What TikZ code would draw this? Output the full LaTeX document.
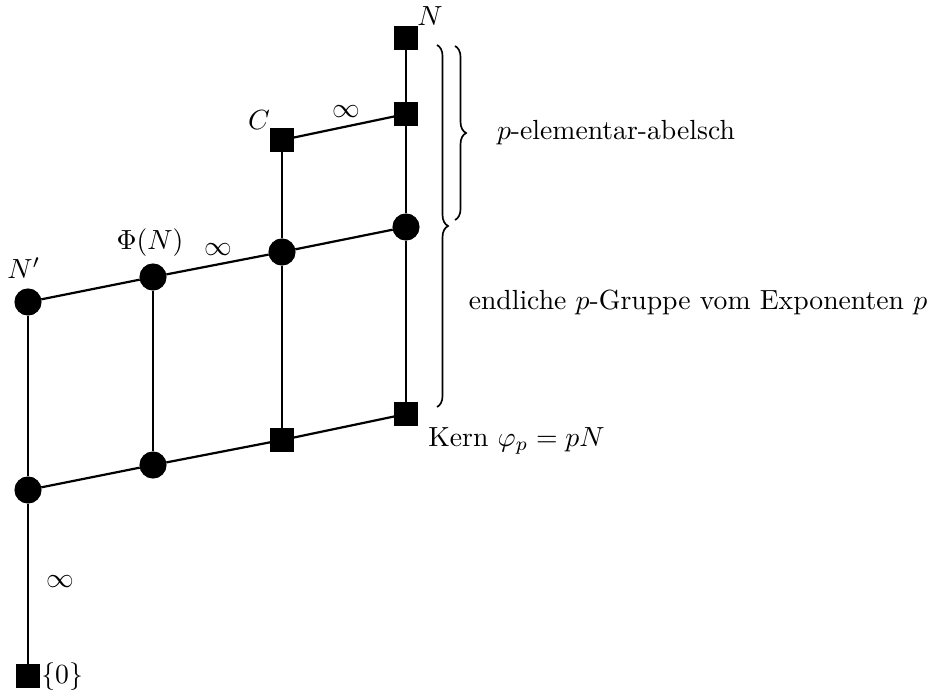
\documentclass[tikz,border=0pt]{standalone}
\usepackage{amsmath,amssymb}
\usetikzlibrary{decorations.pathreplacing}

\tikzset{
	sq/.style={draw, fill=black, rectangle, minimum size=0.29cm, inner sep=0pt},
	pt/.style={draw, fill=black, circle, minimum size=0.33cm, inner sep=0pt},
	lbl/.style={inner sep=1pt},
	kante/.style={thick},
	klammer/.style={decorate, decoration={brace, amplitude=4pt}, semithick},
}

\begin{document}
\begin{tikzpicture}[x=0.0127cm, y=-0.0127cm]
	\useasboundingbox (0,0) rectangle (939,697);
	
	% obere Kette
	\node [sq] (n) at (406,38) {};
	\node [sq] (a) at (406,114) {};
	\node [sq] (c) at (282,140) {};
	
	% mittlere Reihe
	\node [pt] (b1) at (406,227) {};
	\node [pt] (b2) at (282,252) {};
	\node [pt] (b3) at (153,277) {};
	\node [pt] (b4) at (28,302) {};
	
	% untere Reihe
	\node [sq] (k1) at (406,414) {};
	\node [sq] (k2) at (282,440) {};
	\node [pt] (k3) at (153,465) {};
	\node [pt] (k4) at (28,490) {};
	
	% Null
	\node [sq] (z) at (28,676) {};
	
	% Beschriftungen
	\node [lbl] (ln) at (430,16) {$N$};
	\node [lbl] (lc) at (259,120) {$C$};
	\node [lbl] (lphi) at (150,243) {$\Phi(N)$};
	\node [lbl] (lns) at (24,268) {$N'$};
	\node [lbl, anchor=west] (lk) at (425,441) {Kern $\varphi_p=pN$};
	\node [lbl, anchor=west] (lz) at (38,677) {$\{0\}$};
	\node [lbl] (i1) at (346,112) {$\infty$};
	\node [lbl] (i2) at (218,250) {$\infty$};
	\node [lbl] (i3) at (60,582) {$\infty$};
	
	% Kanten
	\draw [kante] (n) -- (a) -- (b1) -- (k1);
	\draw [kante] (c) -- (a);
	\draw [kante] (c) -- (b2) -- (k2);
	\draw [kante] (b4) -- (b3) -- (b2) -- (b1);
	\draw [kante] (b3) -- (k3);
	\draw [kante] (b4) -- (k4) -- (z);
	\draw [kante] (k4) -- (k3) -- (k2) -- (k1);
	
	% Klammern
	\coordinate (o1) at (437,45);
	\coordinate (o2) at (437,407);
	\coordinate (e1) at (455,46);
	\coordinate (e2) at (455,220);
	\draw [klammer] (o1) -- (o2);
	\draw [klammer] (e1) -- (e2);
	\node [lbl] (tab) at (616,133) {$p$-elementar-abelsch};
	\node [lbl] (tend) at (698,302) {endliche $p$-Gruppe vom Exponenten $p$};
\end{tikzpicture}
\end{document}
